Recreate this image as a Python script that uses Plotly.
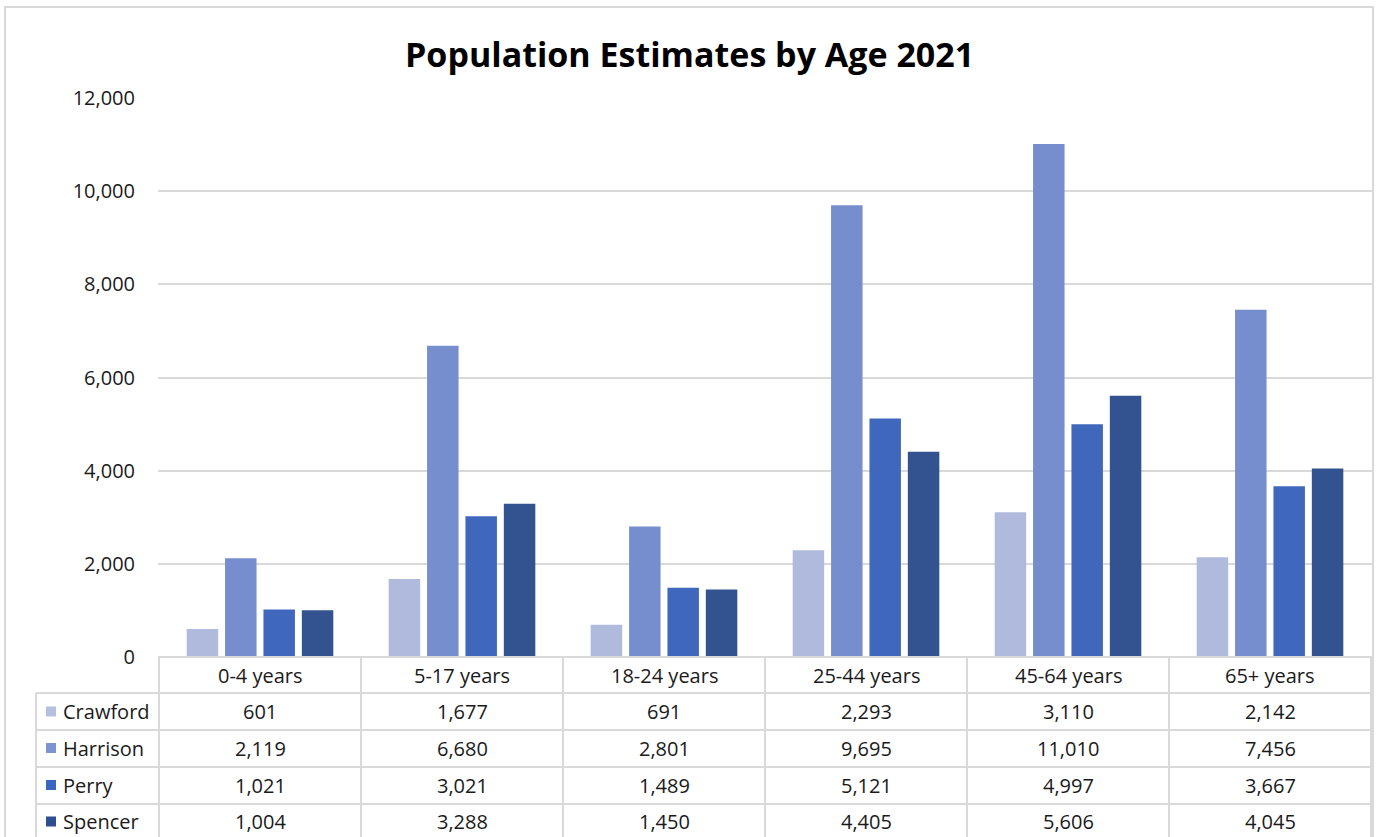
import plotly.graph_objects as go

# ---- data ----
categories = ["0-4 years", "5-17 years", "18-24 years", "25-44 years", "45-64 years", "65+ years"]
counties = ["Crawford", "Harrison", "Perry", "Spencer"]
crawford = [601, 1677, 691, 2293, 3110, 2142]
harrison = [2119, 6680, 2801, 9695, 11010, 7456]
perry = [1021, 3021, 1489, 5121, 4997, 3667]
spencer = [1004, 3288, 1450, 4405, 5606, 4045]
series = [crawford, harrison, perry, spencer]
y_ticks = [0, 2000, 4000, 6000, 8000, 10000, 12000]

colors = ["#afbadd", "#768ecd", "#3f68bd", "#32538f"]
legend_colors = ["#b4c0e0", "#7d93d2", "#3a66c0", "#2d4f90"]

FONT = "'Open Sans', Lato, sans-serif"
TXT = "#1a1a1a"
GRID = "#d9d9d9"

W, H = 1376, 837
L, R, T, B = 158, 1372, 98, 657


def px(x):
    return (x - L) / (R - L)


def py(y):
    return (B - y) / (B - T)


fig = go.Figure()
for name, vals, col in zip(counties, series, colors):
    fig.add_trace(go.Bar(name=name, x=categories, y=vals, marker=dict(color=col, line=dict(width=0)),
                         showlegend=False))

shapes = []
# outer chart border
shapes.append(dict(type="rect", xref="paper", yref="paper", x0=px(5), x1=px(1373), y0=py(7), y1=py(900),
                   line=dict(color=GRID, width=2), fillcolor="rgba(0,0,0,0)", layer="below"))
# table horizontal lines
row_lines = [693, 730, 767, 804]
shapes.append(dict(type="line", xref="paper", yref="paper", x0=0, x1=1, y0=py(B), y1=py(B),
                   line=dict(color=GRID, width=2)))
for yy in row_lines:
    shapes.append(dict(type="line", xref="paper", yref="paper", x0=px(36), x1=1, y0=py(yy), y1=py(yy),
                       line=dict(color=GRID, width=2)))
# table vertical lines
shapes.append(dict(type="line", xref="paper", yref="paper", x0=px(36), x1=px(36), y0=py(693), y1=py(900),
                   line=dict(color=GRID, width=2)))
for i in range(len(categories) + 1):
    shapes.append(dict(type="line", xref="x", yref="paper", x0=i - 0.5, x1=i - 0.5, y0=py(B), y1=py(900),
                       line=dict(color=GRID, width=2)))

annotations = []
# title
annotations.append(dict(text="<b>Population Estimates by Age 2021</b>", xref="paper", yref="paper",
                        x=px(689), y=py(54), xanchor="center", yanchor="middle", showarrow=False,
                        font=dict(family=FONT, size=34, color="#000000")))
# header row
for i, c in enumerate(categories):
    annotations.append(dict(text=c, xref="x", yref="paper", x=i, y=py(675), xanchor="center",
                            yanchor="middle", showarrow=False, font=dict(family=FONT, size=20, color=TXT)))
# data rows
row_centers = [711.5, 748, 785, 821.5]
for r, (name, vals, lc) in enumerate(zip(counties, series, legend_colors)):
    yc = row_centers[r]
    shapes.append(dict(type="rect", xref="paper", yref="paper", x0=px(46), x1=px(56), y0=py(yc - 5),
                       y1=py(yc + 5), line=dict(width=0), fillcolor=lc))
    annotations.append(dict(text=name, xref="paper", yref="paper", x=px(61), y=py(yc), xanchor="left",
                            yanchor="middle", showarrow=False, font=dict(family=FONT, size=20, color=TXT)))
    for i, v in enumerate(vals):
        annotations.append(dict(text=f"{v:,}", xref="x", yref="paper", x=i, y=py(yc), xanchor="center",
                                yanchor="middle", showarrow=False, font=dict(family=FONT, size=20, color=TXT)))

fig.update_layout(
    width=W, height=H,
    margin=dict(l=L, r=W - R, t=T, b=H - B),
    paper_bgcolor="white", plot_bgcolor="white",
    barmode="group", bargap=0.24, bargroupgap=0.18,
    shapes=shapes, annotations=annotations,
    xaxis=dict(showticklabels=False, showgrid=False, zeroline=False, showline=False, ticks=""),
    yaxis=dict(range=[0, 12000], tickvals=y_ticks, tickformat=",", showgrid=True, gridcolor=GRID,
               gridwidth=1.5, zeroline=False, showline=False, ticks="", ticklabelstandoff=22,
               tickfont=dict(family=FONT, size=20, color=TXT)),
)

fig.write_html("out.html", config={"displayModeBar": False},
               post_script="document.body.style.margin='0';document.body.style.overflow='hidden';")
